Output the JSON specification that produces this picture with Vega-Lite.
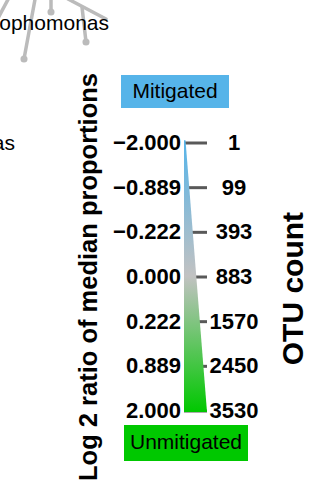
{
  "$schema": "https://vega.github.io/schema/vega-lite/v6.json",
  "width": 328,
  "height": 489,
  "padding": 0,
  "autosize": {"type": "none"},
  "background": "white",
  "config": {"view": {"stroke": null}, "font": "Liberation Sans", "text": {"font": "Liberation Sans"}},
  "datasets": {
    "legend": [
      {"rank": 0, "log2": "−2.000", "otu": "1"},
      {"rank": 1, "log2": "−0.889", "otu": "99"},
      {"rank": 2, "log2": "−0.222", "otu": "393"},
      {"rank": 3, "log2": "0.000", "otu": "883"},
      {"rank": 4, "log2": "0.222", "otu": "1570"},
      {"rank": 5, "log2": "0.889", "otu": "2450"},
      {"rank": 6, "log2": "2.000", "otu": "3530"}
    ],
    "wedge": [
      {"rank": -0.06, "left": 184, "right": 185.5},
      {"rank": 6.02, "left": 184, "right": 207}
    ],
    "edges": [
      {"x": 12, "y": -3.38, "xe": -4, "ye": -2.709},
      {"x": 36, "y": -3.336, "xe": 24, "ye": -1.881},
      {"x": 51, "y": -3.336, "xe": 51, "ye": -2.933},
      {"x": 68, "y": -3.224, "xe": 106, "ye": -2.776},
      {"x": 82, "y": -3.045, "xe": 86, "ye": -2.261}
    ],
    "nodes": [
      {"x": 24, "y": -1.881},
      {"x": 51, "y": -2.933},
      {"x": 86, "y": -2.261}
    ],
    "taxa": [
      {"name": "ophomonas", "x": 109, "y": -2.53},
      {"name": "as", "x": 15, "y": 0.157}
    ]
  },
  "layer": [
    {
      "data": {"name": "edges"},
      "mark": {"type": "rule", "color": "#bbbbbb", "strokeWidth": 3.5, "strokeCap": "round"},
      "encoding": {
        "x": {"field": "x", "type": "quantitative", "scale": {"domain": [0, 328], "nice": false, "zero": false}, "axis": null},
        "y": {"field": "y", "type": "quantitative", "scale": {"domain": [-3.2015, 7.7463], "reverse": true, "nice": false, "zero": false}, "axis": null},
        "x2": {"field": "xe"},
        "y2": {"field": "ye"}
      }
    },
    {
      "data": {"name": "nodes"},
      "mark": {"type": "point", "filled": true, "color": "#bbbbbb", "size": 50, "opacity": 1},
      "encoding": {
        "x": {"field": "x", "type": "quantitative"},
        "y": {"field": "y", "type": "quantitative"}
      }
    },
    {
      "data": {"name": "taxa"},
      "mark": {"type": "text", "align": "right", "baseline": "alphabetic", "fontSize": 21, "color": "#000000"},
      "encoding": {
        "x": {"field": "x", "type": "quantitative"},
        "y": {"field": "y", "type": "quantitative"},
        "text": {"field": "name"}
      }
    },
    {
      "data": {"name": "legend"},
      "mark": {"type": "rule", "color": "#595959", "strokeWidth": 3},
      "encoding": {
        "y": {"field": "rank", "type": "quantitative"},
        "x": {"datum": 184},
        "x2": {"datum": 207}
      }
    },
    {
      "data": {"name": "wedge"},
      "mark": {
        "type": "area",
        "orient": "horizontal",
        "color": {
          "gradient": "linear", "x1": 0, "y1": 0, "x2": 0, "y2": 1,
          "stops": [
            {"offset": 0, "color": "#56b4e9"},
            {"offset": 0.5, "color": "#c2c2c2"},
            {"offset": 1, "color": "#00c800"}
          ]
        }
      },
      "encoding": {
        "y": {"field": "rank", "type": "quantitative"},
        "x": {"field": "left", "type": "quantitative"},
        "x2": {"field": "right"}
      }
    },
    {
      "data": {"name": "legend"},
      "mark": {"type": "text", "align": "right", "baseline": "middle", "fontSize": 22, "fontWeight": "bold", "color": "#000000"},
      "encoding": {
        "y": {"field": "rank", "type": "quantitative"},
        "x": {"datum": 181},
        "text": {"field": "log2"}
      }
    },
    {
      "data": {"name": "legend"},
      "mark": {"type": "text", "align": "center", "baseline": "middle", "fontSize": 22, "fontWeight": "bold", "color": "#000000"},
      "encoding": {
        "y": {"field": "rank", "type": "quantitative"},
        "x": {"datum": 234},
        "text": {"field": "otu"}
      }
    },
    {
      "data": {"values": [{"label": "Mitigated"}]},
      "mark": {"type": "rect", "color": "#56b4e9"},
      "encoding": {
        "x": {"datum": 121}, "x2": {"datum": 229},
        "y": {"datum": -1.522}, "y2": {"datum": -0.784}
      }
    },
    {
      "data": {"values": [{"label": "Mitigated"}]},
      "mark": {"type": "text", "align": "center", "baseline": "middle", "fontSize": 21, "color": "#000000"},
      "encoding": {
        "x": {"datum": 175}, "y": {"datum": -1.142},
        "text": {"field": "label"}
      }
    },
    {
      "data": {"values": [{"label": "Unmitigated"}]},
      "mark": {"type": "rect", "color": "#00c800"},
      "encoding": {
        "x": {"datum": 124}, "x2": {"datum": 248},
        "y": {"datum": 6.313}, "y2": {"datum": 7.119}
      }
    },
    {
      "data": {"values": [{"label": "Unmitigated"}]},
      "mark": {"type": "text", "align": "center", "baseline": "middle", "fontSize": 21, "color": "#000000"},
      "encoding": {
        "x": {"datum": 186}, "y": {"datum": 6.716},
        "text": {"field": "label"}
      }
    },
    {
      "data": {"values": [{"title": "Log 2 ratio of median proportions"}]},
      "mark": {"type": "text", "angle": 270, "align": "center", "baseline": "middle", "fontSize": 25.5, "fontWeight": "bold", "color": "#000000"},
      "encoding": {
        "x": {"datum": 89}, "y": {"datum": 3.0},
        "text": {"field": "title"}
      }
    },
    {
      "data": {"values": [{"title": "OTU count"}]},
      "mark": {"type": "text", "angle": 270, "align": "center", "baseline": "middle", "fontSize": 30, "fontWeight": "bold", "color": "#000000"},
      "encoding": {
        "x": {"datum": 294}, "y": {"datum": 3.26},
        "text": {"field": "title"}
      }
    }
  ]
}
